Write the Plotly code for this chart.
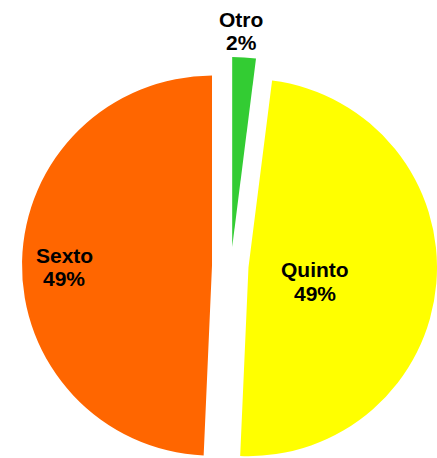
import math
import plotly.graph_objects as go

labels = ["Otro", "Quinto", "Sexto"]
values = [2.0, 48.7, 49.3]
colors = ["#33CC33", "#FFFF00", "#FF6600"]

W, H = 437, 458
CX, CY = 231, 266       # pie centre, px from top-left
R = 190                 # slice radius
EXPLODE = 19            # how far each slice is pushed out
LINE_GAP = 23.5         # distance between the label line and the percent line

# centre of the first text line of each label (px)
label_pos = [(241, 19), (315, 269.5), (64, 255)]

fig = go.Figure()
total = sum(values)
start = 0
for i, (lab, val, col) in enumerate(zip(labels, values, colors)):
    # one trace per slice so every slice can be exploded without shrinking the pie
    mid = (start + val / 2) / total * 2 * math.pi
    start += val
    px = CX + EXPLODE * math.sin(mid)
    py = CY - EXPLODE * math.cos(mid)
    dom_x = [max((px - R) / W, 0), min((px + R) / W, 1)]
    dom_y = [max((H - py - R) / H, 0), min((H - py + R) / H, 1)]
    fig.add_trace(go.Pie(
        labels=labels,
        values=values,
        sort=False,
        direction="clockwise",
        rotation=0,
        marker=dict(colors=[col if j == i else "rgba(0,0,0,0)" for j in range(len(labels))],
                    line=dict(width=0)),
        textinfo="none",
        domain=dict(x=dom_x, y=dom_y),
        hoverinfo="label+percent",
        showlegend=False,
    ))

    lx, ly = label_pos[i]
    for k, txt in enumerate([lab, f"{round(val / total * 100)}%"]):
        fig.add_annotation(
            x=lx / W, y=1 - (ly + k * LINE_GAP) / H, xref="paper", yref="paper",
            text=f"<b>{txt}</b>",
            showarrow=False, xanchor="center", yanchor="middle",
            font=dict(family="Arial, Liberation Sans, sans-serif", size=21, color="black"),
        )

fig.update_layout(
    width=W,
    height=H,
    margin=dict(l=0, r=0, t=0, b=0),
    paper_bgcolor="white",
    plot_bgcolor="white",
)

# drop the browser's default 8px body margin so the figure fills the window
fig.write_html(
    "out.html",
    config={"displayModeBar": False},
    post_script="document.body.style.margin = '0';",
)
